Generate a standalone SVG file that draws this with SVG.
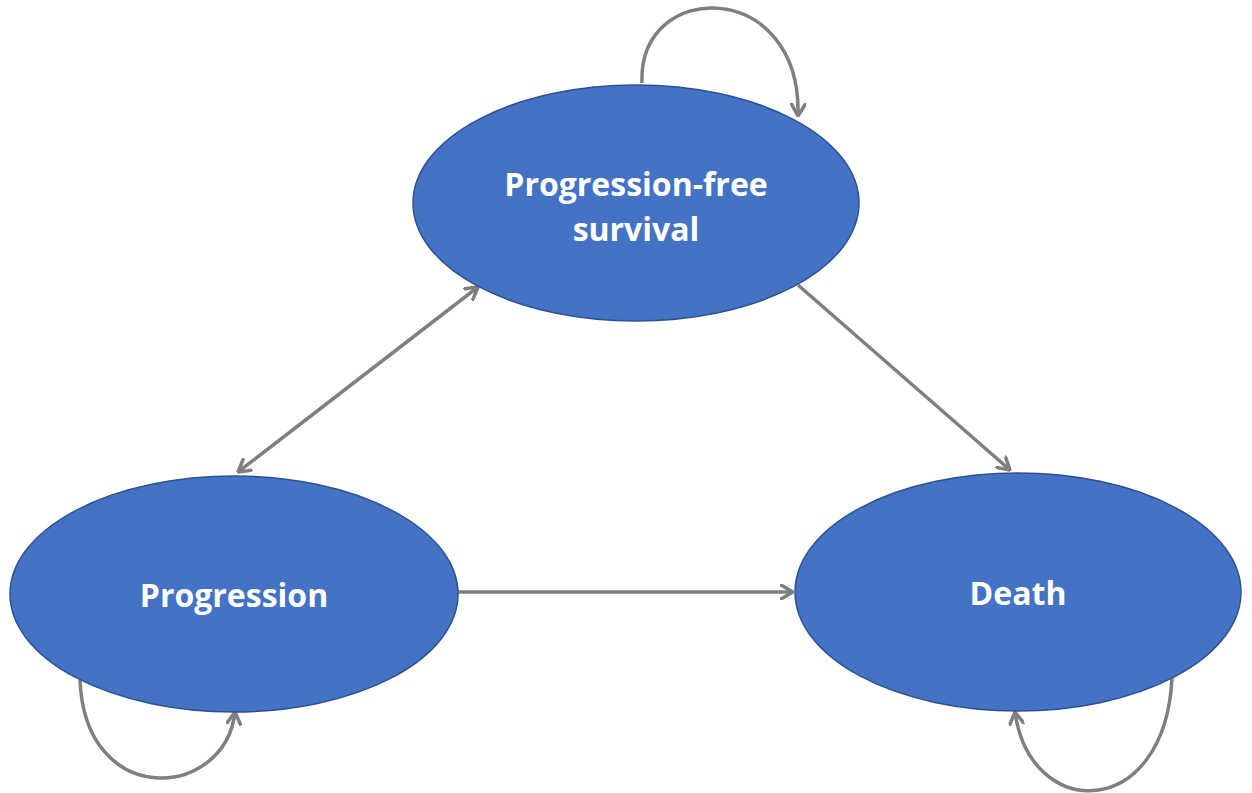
<svg xmlns="http://www.w3.org/2000/svg" width="1252" height="793" viewBox="0 0 1252 793">
<style>
.node{fill:#4472C4;stroke:#2F528F;stroke-width:1.5}
.lbl{fill:#ffffff;font-family:"Open Sans","Liberation Sans",sans-serif;font-weight:bold;font-size:32px;text-anchor:middle}
.edge{fill:none;stroke:#7F7F7F;stroke-width:3.5}
</style>
<defs>
<marker id="arr" viewBox="0 0 14 16" refX="13" refY="8" markerWidth="14" markerHeight="16" markerUnits="userSpaceOnUse" orient="auto-start-reverse">
<path d="M1,1 L13,8 L1,15" fill="none" stroke="#7F7F7F" stroke-width="3.5" stroke-linecap="round" stroke-linejoin="round"/>
</marker>
</defs>
<rect width="1252" height="793" fill="#ffffff"/>
<g id="edges">
<path class="edge" d="M642,83 C638,-22 802,-22 798,116" marker-end="url(#arr)"/>
<path class="edge" d="M80,680 C85,810 225,800 235,712" marker-end="url(#arr)"/>
<path class="edge" d="M1172,678 C1165,822 1030,822 1015,712" marker-end="url(#arr)"/>
<path class="edge" d="M478,287 L238,472" marker-start="url(#arr)" marker-end="url(#arr)"/>
<path class="edge" d="M798,285 L1010,470" marker-end="url(#arr)"/>
<path class="edge" d="M458,592 L793,592" marker-end="url(#arr)"/>
</g>
<g id="pfs">
<ellipse class="node" cx="636" cy="203" rx="223" ry="118"/>
<text class="lbl" x="636" y="196">Progression-free</text>
<text class="lbl" x="636" y="241">survival</text>
</g>
<g id="progression">
<ellipse class="node" cx="234" cy="594" rx="224" ry="118"/>
<text class="lbl" x="234" y="607">Progression</text>
</g>
<g id="death">
<ellipse class="node" cx="1018" cy="592" rx="223" ry="119"/>
<text class="lbl" x="1018" y="605">Death</text>
</g>
</svg>
